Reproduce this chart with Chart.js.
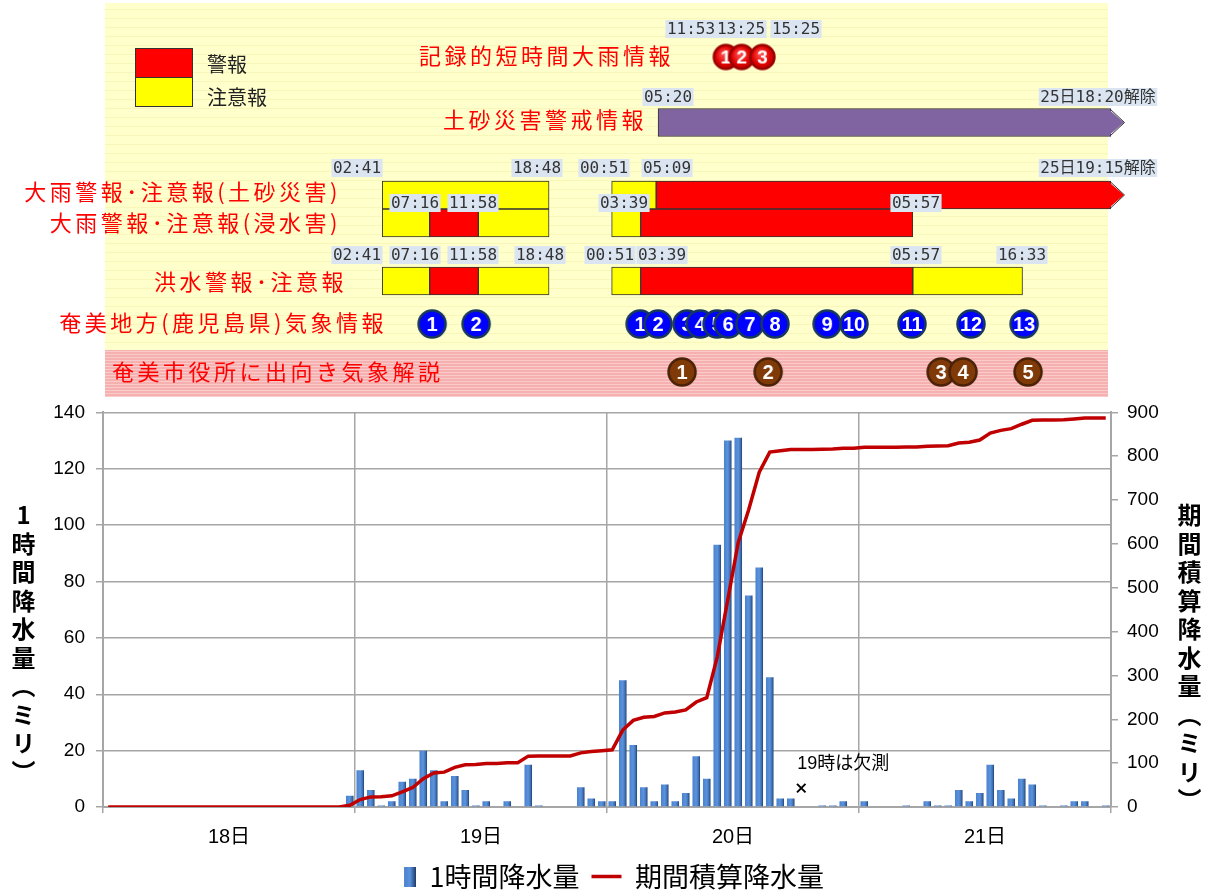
<!DOCTYPE html>
<html lang="ja">
<head>
<meta charset="utf-8">
<title>奄美 大雨 降水量と防災気象情報</title>
<script src="https://cdn.jsdelivr.net/npm/chart.js@4.4.1/dist/chart.umd.min.js"></script>
<style>
  html, body { margin: 0; padding: 0; background: #fff; }
  #page { position: relative; width: 1210px; height: 891px; overflow: hidden; }
  #timeline { position: absolute; left: 0; top: 0; }
  #rain { position: absolute; left: 0; top: 390px; }
  .axis-title {
    position: absolute; writing-mode: vertical-rl; text-orientation: upright;
    font: bold 24px 'Noto Sans CJK JP', sans-serif; letter-spacing: 4.5px; line-height: 1; color: #000;
  }
</style>
</head>
<body>
<div id="page">
  <canvas id="timeline" width="1210" height="400"></canvas>
  <canvas id="rain" width="1210" height="510"></canvas>
  <div class="axis-title" style="left:11px; top:503px;">1時間降水量（ミリ）</div>
  <div class="axis-title" style="left:1177px; top:503px;">期間積算降水量（ミリ）</div>
</div>
<script>
// 横軸は 18日0時からの経過時間(時間)
const dayLabels = ['18日', '19日', '20日', '21日'];

// 1時間降水量(ミリ)  1日24個ずつ、null は欠測
const hourlyRain = [
  0, 0, 0, 0, 0, 0, 0, 0, 0, 0, 0, 0, 0, 0, 0, 0, 0, 0, 0, 0, 0, 0, 0, 4,
  13, 6, 0.5, 2, 9, 10, 20, 13, 2, 11, 6, 0.5, 2, 0, 2, 0, 15, 0.5, 0, 0, 0, 7, 3, 2,
  2, 45, 22, 7, 2, 8, 2, 5, 18, 10, 93, 130, 131, 75, 85, 46, 3, 3, null, 0, 0.5, 0.5, 2, 0,
  2, 0, 0, 0, 0.5, 0, 2, 0.5, 0.5, 6, 2, 5, 15, 6, 3, 10, 8, 0.5, 0, 0.5, 2, 2, 0, 0.5
];

// 期間積算降水量(ミリ)
const cumulativeRain = [
  0, 0, 0, 0, 0, 0, 0, 0, 0, 0, 0, 0, 0, 0, 0, 0, 0, 0, 0, 0, 0, 0, 0, 4,
  17, 23, 23.5, 25.5, 34.5, 44.5, 64.5, 77.5, 79.5, 90.5, 96.5, 97, 99, 99, 101, 101, 116, 116.5, 116.5, 116.5, 116.5, 123.5, 126.5, 128.5,
  130.5, 175.5, 197.5, 204.5, 206.5, 214.5, 216.5, 221.5, 239.5, 249.5, 342.5, 472.5, 603.5, 678.5, 763.5, 809.5, 812.5, 815.5, 815.5, 815.5, 816, 816.5, 818.5, 818.5,
  820.5, 820.5, 820.5, 820.5, 821, 821, 823, 823.5, 824, 830, 832, 837, 853, 859, 863, 873, 882, 882.5, 882.5, 883, 885, 887, 887, 887.5
];
const missingNote = '19時は欠測';

// 防災気象情報  ['行', '開始 日 時:分', '終了 日 時:分']
const keihoPeriods = [ // 警報
  ['ooameDosha', '20 05:09', '25 19:15'],
  ['ooameShinsui', '19 07:16', '19 11:58'],
  ['ooameShinsui', '20 03:39', '21 05:57'],
  ['kozui', '19 07:16', '19 11:58'],
  ['kozui', '20 03:39', '21 05:57']
];
const chuihoPeriods = [ // 注意報
  ['ooameDosha', '19 02:41', '19 18:48'],
  ['ooameDosha', '20 00:51', '20 05:09'],
  ['ooameShinsui', '19 02:41', '19 07:16'],
  ['ooameShinsui', '19 11:58', '19 18:48'],
  ['ooameShinsui', '20 00:51', '20 03:39'],
  ['kozui', '19 02:41', '19 07:16'],
  ['kozui', '19 11:58', '19 18:48'],
  ['kozui', '20 00:51', '20 03:39'],
  ['kozui', '21 05:57', '21 16:33']
];
const keikaiPeriods = [['keikai', '20 05:20', '25 18:20']]; // 土砂災害警戒情報

const kirokuTimes = ['20 11:53', '20 13:25', '20 15:25'];
const kirokuNumbers = [1, 2, 3];
const kishoTimes = ['19 07:30', '19 11:45', '20 03:36', '20 05:20', '20 08:08', '20 09:24', '20 11:02',
  '20 12:06', '20 14:12', '20 16:38', '20 21:40', '21 00:16', '21 05:52', '21 11:34', '21 16:42'];
const kishoNumbers = [1, 2, 1, 2, 3, 4, 5, 6, 7, 8, 9, 10, 11, 12, 13];
const kaisetsuTimes = ['20 07:39', '20 15:58', '21 08:41', '21 10:48', '21 17:05'];
const kaisetsuNumbers = [1, 2, 3, 4, 5];

// ---- layout (pixel positions of the upper panel, not data) ----
const TL_MIN = -0.3;
const TL_MAX = 97.1;
const ROW_Y = { kiroku: 57, keikai: 122.5, ooameDosha: 195, ooameShinsui: 223, kozui: 281, kisho: 324, kaisetsu: 372 };
const PANEL = { top: 3, pinkTop: 350, pinkBottom: 397 };
const rowTitles = [
  ['記録的短時間大雨情報', 'kiroku', 674, 'right', 56],
  ['土砂災害警戒情報', 'keikai', 647, 'right', 120],
  ['大雨警報･注意報(土砂災害)', 'ooameDosha', 341, 'right', 192],
  ['大雨警報･注意報(浸水害)', 'ooameShinsui', 341, 'right', 223],
  ['洪水警報･注意報', 'kozui', 347, 'right', 282],
  ['奄美地方(鹿児島県)気象情報', 'kisho', 387, 'right', 323],
  ['奄美市役所に出向き気象解説', 'kaisetsu', 112, 'left', 372]
];
const TAG_Y = { kiroku: 29, keikai: 97, ooame1: 168, ooame2: 203, kozui: 255 };
const timeTags = [
  ['11:53', 'kiroku', 691], ['13:25', 'kiroku', 741], ['15:25', 'kiroku', 796],
  ['05:20', 'keikai', 668], ['25日18:20解除', 'keikai', 1098],
  ['02:41', 'ooame1', 357], ['18:48', 'ooame1', 537], ['00:51', 'ooame1', 604], ['05:09', 'ooame1', 667],
  ['25日19:15解除', 'ooame1', 1098],
  ['07:16', 'ooame2', 415], ['11:58', 'ooame2', 473], ['03:39', 'ooame2', 624], ['05:57', 'ooame2', 916],
  ['02:41', 'kozui', 357], ['07:16', 'kozui', 415], ['11:58', 'kozui', 473], ['18:48', 'kozui', 540],
  ['00:51', 'kozui', 610], ['03:39', 'kozui', 662], ['05:57', 'kozui', 916], ['16:33', 'kozui', 1022]
];

const FONT = "'Liberation Sans', 'Noto Sans CJK JP', sans-serif";
const JP_FONT = "'Noto Sans CJK JP', sans-serif";
const GRID = '#a6a6a6';

function toHour(stamp) {
  const [day, hm] = stamp.split(' ');
  const [h, m] = hm.split(':').map(Number);
  return (Number(day) - 18) * 24 + h + m / 60;
}

function periodData(periods) {
  return periods.map(([row, from, to]) => {
    const end = toHour(to);
    return { x: [toHour(from), Math.min(end, TL_MAX)], y: ROW_Y[row], cont: end > TL_MAX };
  });
}

function makeBadge(num, fill, edge, r, size) {
  const d = Math.ceil(r * 2 + 5);
  const c = document.createElement('canvas');
  c.width = d; c.height = d;
  const g = c.getContext('2d');
  g.beginPath();
  g.arc(d / 2, d / 2, r, 0, Math.PI * 2);
  g.fillStyle = fill(g, d);
  g.fill();
  g.lineWidth = 2.5;
  g.strokeStyle = edge;
  g.stroke();
  g.fillStyle = '#fff';
  g.font = `bold ${size}px ${FONT}`;
  g.textAlign = 'center';
  g.textBaseline = 'middle';
  g.fillText(String(num), d / 2, d / 2 + 1);
  return c;
}
const flat = color => () => color;
const glossRed = (g, d) => {
  const grad = g.createRadialGradient(d * 0.42, d * 0.38, 1, d / 2, d / 2, d / 2);
  grad.addColorStop(0, '#ff5050');
  grad.addColorStop(0.6, '#e00000');
  grad.addColorStop(1, '#a00000');
  return grad;
};

function badgeDataset(times, numbers, row, fill, edge, r, size) {
  return {
    type: 'scatter',
    data: times.map(t => ({ x: toHour(t), y: ROW_Y[row] })),
    pointStyle: numbers.map(n => makeBadge(n, fill, edge, r, size)),
    pointRadius: r,
    pointHoverRadius: r
  };
}

function barDataset(periods, color) {
  return {
    type: 'bar',
    indexAxis: 'y',
    grouped: false,
    categoryPercentage: 1,
    barPercentage: 1,
    data: periodData(periods),
    backgroundColor: color,
    borderColor: '#333',
    borderWidth: 1,
    borderSkipped: false
  };
}

// 背景と凡例(警報/注意報)
const panelBackdrop = {
  id: 'panelBackdrop',
  beforeDraw(chart) {
    const { ctx, chartArea: a, scales: { y } } = chart;
    const left = a.left + 2;
    const right = a.right - 3;
    const top = y.getPixelForValue(PANEL.top);
    const pinkTop = y.getPixelForValue(PANEL.pinkTop);
    const pinkBottom = y.getPixelForValue(PANEL.pinkBottom);
    ctx.save();
    ctx.fillStyle = '#ffffcc';
    ctx.fillRect(left, top, right - left, pinkTop - top);
    ctx.strokeStyle = 'rgba(225, 215, 120, 0.22)';
    ctx.lineWidth = 1;
    for (let yy = top + 6; yy < pinkTop; yy += 9) {
      ctx.beginPath(); ctx.moveTo(left, yy + 0.5); ctx.lineTo(right, yy + 0.5); ctx.stroke();
    }
    ctx.fillStyle = '#f6b0b0';
    ctx.fillRect(left, pinkTop, right - left, pinkBottom - pinkTop);
    ctx.strokeStyle = 'rgba(255, 255, 255, 0.35)';
    for (let yy = pinkTop + 1; yy < pinkBottom; yy += 3) {
      ctx.beginPath(); ctx.moveTo(left, yy + 0.5); ctx.lineTo(right, yy + 0.5); ctx.stroke();
    }

    ctx.fillStyle = '#ff0000';
    ctx.fillRect(135, 48, 57, 29);
    ctx.fillStyle = '#ffff00';
    ctx.fillRect(135, 77, 57, 30);
    ctx.strokeStyle = '#333';
    ctx.strokeRect(135.5, 48.5, 57, 29);
    ctx.strokeRect(135.5, 77.5, 57, 29);
    ctx.fillStyle = '#222';
    ctx.font = `20px ${JP_FONT}`;
    ctx.textAlign = 'left';
    ctx.textBaseline = 'middle';
    ctx.fillText('警報', 207, 64);
    ctx.fillText('注意報', 207, 97);
    ctx.restore();
  }
};

// 継続中の情報の矢印
const arrowHeads = {
  id: 'arrowHeads',
  afterDatasetsDraw(chart) {
    const { ctx } = chart;
    chart.data.datasets.forEach((ds, di) => {
      if (ds.type !== 'bar') return;
      const meta = chart.getDatasetMeta(di);
      ds.data.forEach((item, i) => {
        if (!item.cont) return;
        const { x, y, height } = meta.data[i].getProps(['x', 'y', 'height'], true);
        const top = y - height / 2;
        const bottom = y + height / 2;
        ctx.save();
        ctx.beginPath();
        ctx.moveTo(x - 2.5, top + 0.8);
        ctx.lineTo(x + 13, y);
        ctx.lineTo(x - 2.5, bottom - 0.8);
        ctx.closePath();
        ctx.fillStyle = ds.backgroundColor;
        ctx.fill();
        ctx.beginPath();
        ctx.moveTo(x - 1, top + 0.5);
        ctx.lineTo(x + 13.5, y);
        ctx.lineTo(x - 1, bottom - 0.5);
        ctx.strokeStyle = ds.borderColor;
        ctx.lineWidth = 1;
        ctx.stroke();
        ctx.restore();
      });
    });
  }
};

// 行見出しと時刻
const panelText = {
  id: 'panelText',
  afterDatasetsDraw(chart) {
    const { ctx } = chart;
    ctx.save();
    ctx.font = `22px ${JP_FONT}`;
    ctx.fillStyle = '#ff0000';
    ctx.textBaseline = 'middle';
    ctx.letterSpacing = '3.5px';
    rowTitles.forEach(([text, , x, align, y]) => {
      ctx.textAlign = align;
      ctx.fillText(text, x, y);
    });
    ctx.letterSpacing = '0px';
    ctx.font = `16px 'DejaVu Sans Mono', ${JP_FONT}`;
    ctx.textAlign = 'center';
    timeTags.forEach(([text, line, cx]) => {
      const cy = TAG_Y[line];
      const w = ctx.measureText(text).width;
      ctx.fillStyle = '#dbe5f1';
      ctx.fillRect(cx - w / 2 - 1.5, cy - 9, w + 3, 18);
      ctx.fillStyle = '#333';
      ctx.fillText(text, cx, cy + 1);
    });
    ctx.restore();
  }
};

new Chart(document.getElementById('timeline'), {
  type: 'bar',
  data: {
    datasets: [
      badgeDataset(kirokuTimes, kirokuNumbers, 'kiroku', glossRed, '#990000', 12, 19),
      badgeDataset(kishoTimes, kishoNumbers, 'kisho', flat('#0000ff'), '#17375e', 13.5, 20),
      badgeDataset(kaisetsuTimes, kaisetsuNumbers, 'kaisetsu', flat('#7f3a08'), '#4a2208', 13.5, 20),
      barDataset(keikaiPeriods, '#8064a2'),
      barDataset(keihoPeriods, '#ff0000'),
      barDataset(chuihoPeriods, '#ffff00')
    ]
  },
  options: {
    responsive: false,
    animation: false,
    events: [],
    layout: { padding: { left: 103, right: 99, top: 0, bottom: 0 }, autoPadding: false },
    scales: {
      x: { type: 'linear', min: TL_MIN, max: TL_MAX, offset: false, display: false },
      y: { type: 'linear', min: 0, max: 400, reverse: true, offset: false, display: false }
    },
    plugins: { legend: { display: false }, tooltip: { enabled: false } }
  },
  plugins: [panelBackdrop, arrowHeads, panelText]
});

// ---- 降水量グラフ ----
const BAR_SOLID = '#4f86d0';
function barFill(c) {
  const chart = c.chart;
  if (c.type !== 'data' || !c.parsed || !chart.scales.x) return BAR_SOLID;
  const x = chart.scales.x.getPixelForValue(c.parsed.x);
  if (!Number.isFinite(x)) return BAR_SOLID;
  const g = chart.ctx.createLinearGradient(x - 4, 0, x + 4, 0);
  g.addColorStop(0, '#4a80cc');
  g.addColorStop(0.5, '#5b93dd');
  g.addColorStop(0.78, '#3f70b4');
  g.addColorStop(1, '#1d3a66');
  return g;
}

function legendBarIcon() {
  const c = document.createElement('canvas');
  c.width = 30; c.height = 20;
  const g = c.getContext('2d');
  const grad = g.createLinearGradient(18, 0, 30, 0);
  grad.addColorStop(0, '#4a80cc');
  grad.addColorStop(0.5, '#5b93dd');
  grad.addColorStop(1, '#1d3a66');
  g.fillStyle = grad;
  g.fillRect(18, 0, 12, 20);
  return c;
}

const missingLabel = {
  id: 'missingLabel',
  afterDatasetsDraw(chart) {
    const pt = chart.getDatasetMeta(2).data[0];
    if (!pt) return;
    const { ctx } = chart;
    ctx.save();
    ctx.font = `18px ${FONT}`;
    ctx.fillStyle = '#000';
    ctx.textAlign = 'left';
    ctx.textBaseline = 'middle';
    ctx.fillText(missingNote, pt.x - 4, pt.y - 24);
    ctx.restore();
  }
};

const dayTicks = dayLabels.flatMap((d, k) => [k * 24, k * 24 + 12]).concat(dayLabels.length * 24);
const isDayEdge = c => c.tick && c.tick.value % 24 === 0;

new Chart(document.getElementById('rain'), {
  type: 'bar',
  data: {
    datasets: [
      {
        type: 'bar',
        label: '1時間降水量',
        data: hourlyRain.map((v, i) => ({ x: i + 0.5, y: v })),
        yAxisID: 'y',
        backgroundColor: barFill,
        borderWidth: 0,
        pointStyle: legendBarIcon(),
        order: 2
      },
      {
        type: 'line',
        label: '期間積算降水量',
        data: cumulativeRain.map((v, i) => ({ x: i + 0.5, y: v })),
        yAxisID: 'y2',
        borderColor: '#c00000',
        backgroundColor: '#c00000',
        borderWidth: 3.5,
        pointRadius: 0,
        pointStyle: 'line',
        tension: 0,
        order: 1
      },
      {
        type: 'scatter',
        label: '欠測',
        data: hourlyRain.map((v, i) => (v === null ? { x: i + 0.5, y: 6.7 } : null)).filter(Boolean),
        yAxisID: 'y',
        pointStyle: 'crossRot',
        pointRadius: 6,
        borderColor: '#000',
        borderWidth: 2,
        order: 0
      }
    ]
  },
  options: {
    responsive: false,
    animation: false,
    events: [],
    layout: { padding: { top: 1, left: 0, right: 0, bottom: 0 }, autoPadding: false },
    scales: {
      x: {
        type: 'linear',
        min: 0,
        max: dayLabels.length * 24,
        offset: false,
        afterBuildTicks: s => { s.ticks = dayTicks.map(v => ({ value: v })); },
        afterFit: s => { s.height = 44; },
        ticks: {
          autoSkip: false,
          maxRotation: 0,
          padding: 12,
          color: '#000',
          font: { size: 20, family: FONT },
          callback: v => (v % 24 === 12 ? dayLabels[(v - 12) / 24] : '')
        },
        grid: {
          offset: false,
          color: c => (isDayEdge(c) ? GRID : 'rgba(0,0,0,0)'),
          lineWidth: 1.5,
          tickLength: 6
        },
        border: { color: GRID, width: 2 }
      },
      y: {
        position: 'left',
        min: 0,
        max: 140,
        afterFit: s => { s.width = 103; },
        ticks: { stepSize: 20, padding: 11, color: '#000', font: { size: 19, family: FONT } },
        grid: { color: GRID, lineWidth: 1.5, tickLength: 7 },
        border: { color: GRID, width: 2 }
      },
      y2: {
        position: 'right',
        min: 0,
        max: 900,
        afterFit: s => { s.width = 99; },
        ticks: { stepSize: 100, padding: 9, color: '#000', font: { size: 19, family: FONT } },
        grid: { drawOnChartArea: false, color: GRID, lineWidth: 1.5, tickLength: 7 },
        border: { color: GRID, width: 2 }
      }
    },
    plugins: {
      tooltip: { enabled: false },
      legend: {
        position: 'bottom',
        labels: {
          usePointStyle: true,
          pointStyleWidth: 30,
          padding: 12,
          color: '#000',
          font: { size: 27, family: JP_FONT },
          filter: item => item.datasetIndex !== 2,
          sort: (a, b) => a.datasetIndex - b.datasetIndex
        }
      }
    }
  },
  plugins: [missingLabel]
});
</script>
</body>
</html>
